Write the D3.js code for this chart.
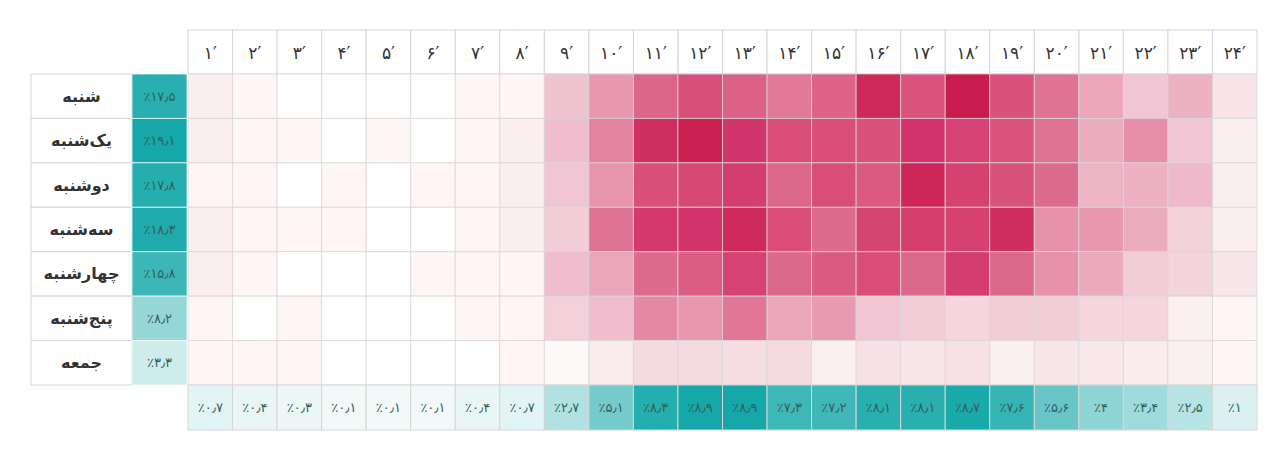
<!DOCTYPE html>
<html>
<head>
<meta charset="utf-8">
<script src="https://cdn.jsdelivr.net/npm/d3@7/dist/d3.min.js"></script>
<style>
  html, body { margin: 0; padding: 0; background: #fff; }
  svg { display: block; }
  text { font-family: "DejaVu Sans", "Noto Sans", sans-serif; }
</style>
</head>
<body>
<svg id="chart" width="1280" height="459"></svg>
<script>
// ---- data ----
const hourLabels = ["۱′","۲′","۳′","۴′","۵′","۶′","۷′","۸′","۹′","۱۰′","۱۱′","۱۲′","۱۳′","۱۴′","۱۵′","۱۶′","۱۷′","۱۸′","۱۹′","۲۰′","۲۱′","۲۲′","۲۳′","۲۴′"];
const days = ["شنبه","یک‌شنبه","دوشنبه","سه‌شنبه","چهارشنبه","پنج‌شنبه","جمعه"];
const dayShare = [17.5, 19.1, 17.8, 18.3, 15.8, 8.2, 3.3];
const hourShare = [0.7, 0.4, 0.3, 0.1, 0.1, 0.1, 0.4, 0.7, 2.7, 5.1, 8.3, 8.9, 8.9, 7.3, 7.2, 8.1, 8.1, 8.7, 7.6, 5.6, 4, 3.4, 2.5, 1];
// relative activity intensity per day (rows) and hour (columns), 0-100
const satValues = [6,3,0,0,0,0,3,3,25,40,58,70,60,50,59,92,68,100,69,52,35,24,31,10];
const sunValues = [6,3,3,0,3,0,3,6,27,47,88,97,84,71,71,69,85,77,68,52,33,43,24,6];
const monValues = [3,3,0,3,0,3,3,6,24,41,70,74,80,57,71,64,93,78,69,55,30,31,28,6];
const tueValues = [6,3,3,3,0,0,3,6,20,52,82,85,91,71,55,76,79,78,89,42,40,33,18,6];
const wedValues = [6,3,0,0,0,3,3,3,27,35,55,63,77,57,64,71,56,80,57,42,34,21,17,9];
const thuValues = [3,0,3,0,0,0,3,3,19,27,45,40,51,35,39,24,21,16,21,21,16,16,5,3];
const friValues = [3,3,3,0,0,0,0,3,2,7,14,14,13,14,5,11,9,11,5,9,8,7,5,3];
const heat = [satValues, sunValues, monValues, tueValues, wedValues, thuValues, friValues];

// ---- helpers ----
const faDigits = "۰۱۲۳۴۵۶۷۸۹";
function toFa(v) {
  return "٪" + String(v).replace(".", "٫").replace(/[0-9]/g, d => faDigits[+d]);
}

const svg = d3.select("#chart");

const x = d3.scaleBand().domain(d3.range(24)).range([188, 1257]).padding(0);
const y = d3.scaleBand().domain(d3.range(7)).range([74, 385]).padding(0);
const headerTop = 30, footerBottom = 430;
const labelX0 = 31, labelX1 = 132, shareX1 = 187;

const heatColor = d3.scaleLinear()
  .domain([0, 4, 10, 25, 40, 55, 70, 85, 100])
  .range(["#ffffff", "#fcf3f2", "#f8e3e8", "#f0c3d1", "#e897b1", "#dd6a8f", "#d8507a", "#d2336a", "#c81d4a"])
  .clamp(true);

const dayTeal = d3.scaleLinear().domain([0, d3.max(dayShare)]).range(["#f4fafa", "#16a8a8"]);
const hourTeal = d3.scaleLinear().domain([0, d3.max(hourShare)]).range(["#f4fafa", "#16a8a8"]);

const gridStroke = "#d6d6d6";

// header cells
const header = svg.append("g");
header.selectAll("rect").data(hourLabels).join("rect")
  .attr("x", (d, i) => x(i)).attr("y", headerTop)
  .attr("width", x.bandwidth()).attr("height", y.range()[0] - headerTop)
  .attr("fill", "#fff").attr("stroke", gridStroke).attr("stroke-width", 1);
header.selectAll("text").data(hourLabels).join("text")
  .attr("x", (d, i) => x(i) + x.bandwidth() / 2)
  .attr("y", (headerTop + y.range()[0]) / 2 + 1)
  .attr("text-anchor", "middle").attr("dominant-baseline", "central")
  .attr("font-size", 17).attr("fill", "#333")
  .text(d => d);

// heat cells
const cells = [];
heat.forEach((row, r) => row.forEach((v, c) => cells.push({ r, c, v })));
svg.append("g").selectAll("rect").data(cells).join("rect")
  .attr("x", d => x(d.c)).attr("y", d => y(d.r))
  .attr("width", x.bandwidth()).attr("height", y.bandwidth())
  .attr("fill", d => heatColor(d.v))
  .attr("stroke", "rgba(215,215,215,0.75)").attr("stroke-width", 1);

// day labels
const labels = svg.append("g");
labels.selectAll("rect").data(days).join("rect")
  .attr("x", labelX0).attr("y", (d, i) => y(i))
  .attr("width", labelX1 - labelX0).attr("height", y.bandwidth())
  .attr("fill", "#fff").attr("stroke", gridStroke).attr("stroke-width", 1);
labels.selectAll("text").data(days).join("text")
  .attr("x", (labelX0 + labelX1) / 2)
  .attr("y", (d, i) => y(i) + y.bandwidth() / 2)
  .attr("text-anchor", "middle").attr("dominant-baseline", "central")
  .attr("font-size", 16).attr("font-weight", "bold").attr("fill", "#333")
  .attr("direction", "rtl")
  .text(d => d);

// day share column
const dayCol = svg.append("g");
dayCol.selectAll("rect").data(dayShare).join("rect")
  .attr("x", labelX1).attr("y", (d, i) => y(i))
  .attr("width", shareX1 - labelX1).attr("height", y.bandwidth())
  .attr("fill", d => dayTeal(d)).attr("stroke", "rgba(255,255,255,0.7)").attr("stroke-width", 1);
dayCol.selectAll("text").data(dayShare).join("text")
  .attr("x", (labelX1 + shareX1) / 2)
  .attr("y", (d, i) => y(i) + y.bandwidth() / 2)
  .attr("text-anchor", "middle").attr("dominant-baseline", "central")
  .attr("font-size", 13).attr("fill", "#2f6161")
  .text(d => toFa(d));

// hour share row
const hourRow = svg.append("g");
hourRow.selectAll("rect").data(hourShare).join("rect")
  .attr("x", (d, i) => x(i)).attr("y", y.range()[1])
  .attr("width", x.bandwidth()).attr("height", footerBottom - y.range()[1])
  .attr("fill", d => hourTeal(d)).attr("stroke", gridStroke).attr("stroke-width", 1);
hourRow.selectAll("text").data(hourShare).join("text")
  .attr("x", (d, i) => x(i) + x.bandwidth() / 2)
  .attr("y", (y.range()[1] + footerBottom) / 2)
  .attr("text-anchor", "middle").attr("dominant-baseline", "central")
  .attr("font-size", 13).attr("fill", "#2f6161")
  .text(d => toFa(d));
</script>
</body>
</html>
